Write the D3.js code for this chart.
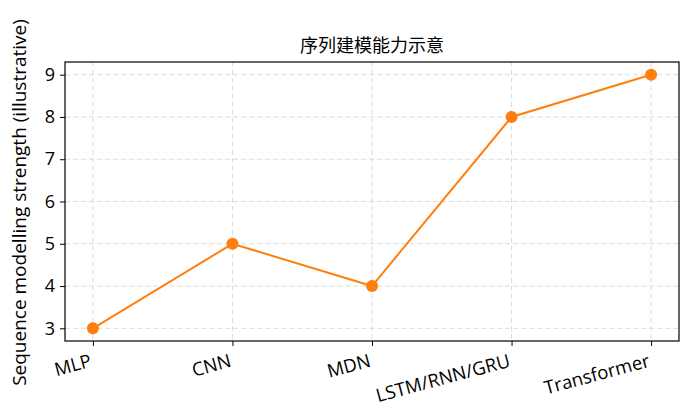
<!DOCTYPE html>
<html>
<head>
<meta charset="utf-8">
<script src="https://cdn.jsdelivr.net/npm/d3@7"></script>
<style>
  html, body { margin: 0; padding: 0; background: #fff; }
  svg text { font-family: "Open Sans", "Noto Sans", sans-serif; }
</style>
</head>
<body>
<div id="chart"></div>
<script>
// chart data
var models = ['MLP', 'CNN', 'MDN', 'LSTM/RNN/GRU', 'Transformer'];
var strength = [3, 5, 4, 8, 9];
var yTicks = [3, 4, 5, 6, 7, 8, 9];
var title = '序列建模能力示意';
var yLabel = 'Sequence modelling strength (illustrative)';

var width = 691, height = 414;
var margin = { top: 62, right: 12, bottom: 73, left: 65 };

var svg = d3.select('#chart').append('svg')
    .attr('width', width)
    .attr('height', height);

var x = d3.scaleLinear()
    .domain([-0.2, models.length - 1 + 0.2])
    .range([margin.left, width - margin.right]);
var y = d3.scaleLinear()
    .domain([2.7, 9.3])
    .range([height - margin.bottom, margin.top]);

// grid
var grid = svg.append('g').attr('class', 'grid');
grid.selectAll('line.gx')
    .data(models)
    .enter().append('line')
    .attr('x1', function (d, i) { return x(i); })
    .attr('x2', function (d, i) { return x(i); })
    .attr('y1', margin.top)
    .attr('y2', height - margin.bottom);
grid.selectAll('line.gy')
    .data(yTicks)
    .enter().append('line')
    .attr('x1', margin.left)
    .attr('x2', width - margin.right)
    .attr('y1', function (d) { return y(d); })
    .attr('y2', function (d) { return y(d); });
grid.selectAll('line')
    .attr('stroke', '#dcdcdc')
    .attr('stroke-width', 1)
    .attr('stroke-dasharray', '5,3');

// axes
var xAxis = d3.axisBottom(x)
    .tickValues(d3.range(models.length))
    .tickFormat(function (d) { return models[d]; })
    .tickSize(5).tickSizeOuter(0);
var yAxis = d3.axisLeft(y)
    .tickValues(yTicks)
    .tickFormat(d3.format('d'))
    .tickSize(5).tickSizeOuter(0);

var gx = svg.append('g')
    .attr('transform', 'translate(0,' + (height - margin.bottom) + ')')
    .call(xAxis);
gx.select('.domain').remove();
gx.selectAll('line').attr('stroke', '#000').attr('stroke-width', 1);
gx.selectAll('text')
    .attr('font-size', 18.5)
    .attr('fill', '#000')
    .attr('text-anchor', 'end')
    .attr('dy', null)
    .attr('dominant-baseline', 'hanging')
    .attr('x', -5)
    .attr('y', 10)
    .attr('transform', 'rotate(-15,-5,10)');

var gy = svg.append('g')
    .attr('transform', 'translate(' + margin.left + ',0)')
    .call(yAxis);
gy.select('.domain').remove();
gy.selectAll('line').attr('stroke', '#000').attr('stroke-width', 1);
gy.selectAll('text')
    .attr('font-size', 18)
    .attr('fill', '#000')
    .attr('x', -10);

// frame
svg.append('rect')
    .attr('x', margin.left)
    .attr('y', margin.top)
    .attr('width', width - margin.left - margin.right)
    .attr('height', height - margin.top - margin.bottom)
    .attr('fill', 'none')
    .attr('stroke', '#000')
    .attr('stroke-width', 1.2);

// series
var line = d3.line()
    .x(function (d, i) { return x(i); })
    .y(function (d) { return y(d); });
svg.append('path')
    .datum(strength)
    .attr('d', line)
    .attr('fill', 'none')
    .attr('stroke', '#ff7f0e')
    .attr('stroke-width', 2);
svg.append('g').selectAll('circle')
    .data(strength)
    .enter().append('circle')
    .attr('cx', function (d, i) { return x(i); })
    .attr('cy', function (d) { return y(d); })
    .attr('r', 6)
    .attr('fill', '#ff7f0e');

// labels
svg.append('text')
    .attr('x', (margin.left + width - margin.right) / 2)
    .attr('y', 44)
    .attr('text-anchor', 'middle')
    .attr('dominant-baseline', 'central')
    .attr('font-size', 18)
    .style('font-family', '"Noto Sans CJK SC", sans-serif')
    .text(title);
svg.append('text')
    .attr('transform', 'translate(26,202.5) rotate(-90)')
    .attr('text-anchor', 'middle')
    .attr('font-size', 19)
    .text(yLabel);
</script>
</body>
</html>
